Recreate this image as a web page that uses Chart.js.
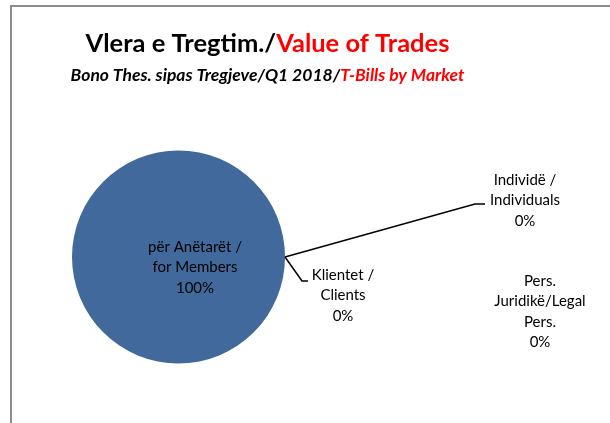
<!doctype html>
<html lang="en">
  <head>
    <script src="https://cdn.jsdelivr.net/npm/chart.js"></script>
    <meta charset="UTF-8" />
    <title>Vlera e Tregtim./Value of Trades</title>
    <style>
      html, body {
        margin: 0;
        padding: 0;
        background: #fff;
      }
      #wrap {
        width: 610px;
        height: 423px;
        position: relative;
      }
    </style>
  </head>
  <body>
    <div id="wrap"><canvas id="myChart" width="610" height="423"></canvas></div>

    <script>
      const categories = [
        ["për Anëtarët /", "for Members"],
        ["Klientet /", "Clients"],
        ["Individë /", "Individuals"],
        ["Pers.", "Juridikë/Legal", "Pers."],
      ];
      const shares = [100, 0, 0, 0];
      const sliceColors = ["#41699B", "#A5433F", "#86A544", "#6E548D"];

      const titleParts = [
        { text: "Vlera e Tregtim./", color: "#000" },
        { text: "Value of Trades", color: "#FF0000" },
      ];
      const subtitleParts = [
        { text: "Bono Thes. sipas Tregjeve/Q1 2018/", color: "#000" },
        { text: "T-Bills by Market", color: "#FF0000" },
      ];

      // where each data label sits (centre of first line) and its leader kink
      const labelPlaces = [
        { x: 195, y: 247, leader: null },
        { x: 343, y: 275, leader: [[302, 281], [308, 281]] },
        { x: 525, y: 180, leader: [[475, 204], [485, 204]] },
        { x: 540, y: 281, leader: null },
      ];

      const FONT = "Lato, 'Open Sans', sans-serif";

      function drawParts(ctx, parts, font, cx, y) {
        ctx.font = font;
        const widths = parts.map((p) => ctx.measureText(p.text).width);
        let x = cx - widths.reduce((a, b) => a + b, 0) / 2;
        ctx.textAlign = "left";
        ctx.textBaseline = "alphabetic";
        parts.forEach((p, i) => {
          ctx.fillStyle = p.color;
          ctx.fillText(p.text, x, y);
          x += widths[i];
        });
      }

      const decorPlugin = {
        id: "decor",
        beforeDraw(chart) {
          const ctx = chart.ctx;
          ctx.save();
          ctx.strokeStyle = "#8C8C8C";
          ctx.lineWidth = 2;
          ctx.strokeRect(11, 6, 700, 500);
          drawParts(ctx, titleParts, "bold 25.5px " + FONT, 267.5, 52);
          drawParts(ctx, subtitleParts, "italic bold 17.5px " + FONT, 267.5, 81);
          ctx.restore();
        },
        afterDatasetsDraw(chart) {
          const ctx = chart.ctx;
          const meta = chart.getDatasetMeta(0);
          const total = shares.reduce((a, b) => a + b, 0);
          ctx.save();
          ctx.font = "15px " + FONT;
          ctx.fillStyle = "#000";
          ctx.textAlign = "center";
          ctx.textBaseline = "middle";
          ctx.strokeStyle = "#000";
          ctx.lineWidth = 1.5;
          meta.data.forEach((arc, i) => {
            const place = labelPlaces[i];
            if (place.leader) {
              const a = arc.endAngle;
              const sx = arc.x + arc.outerRadius * Math.cos(a);
              const sy = arc.y + arc.outerRadius * Math.sin(a);
              ctx.beginPath();
              ctx.moveTo(sx, sy);
              place.leader.forEach((p) => ctx.lineTo(p[0], p[1]));
              ctx.stroke();
            }
            const lines = categories[i].concat([
              Math.round((shares[i] / total) * 100) + "%",
            ]);
            lines.forEach((t, k) => {
              ctx.fillText(t, place.x, place.y + k * 20.5);
            });
          });
          ctx.restore();
        },
      };

      new Chart(document.getElementById("myChart"), {
        type: "pie",
        data: {
          labels: categories.map((c) => c.join(" ")),
          datasets: [
            {
              data: shares,
              backgroundColor: sliceColors,
              borderWidth: 0,
            },
          ],
        },
        options: {
          responsive: false,
          animation: false,
          rotation: 90,
          layout: {
            padding: { top: 150, bottom: 59, left: 72, right: 325 },
          },
          plugins: {
            legend: { display: false },
            tooltip: { enabled: false },
          },
        },
        plugins: [decorPlugin],
      });
    </script>
  </body>
</html>
